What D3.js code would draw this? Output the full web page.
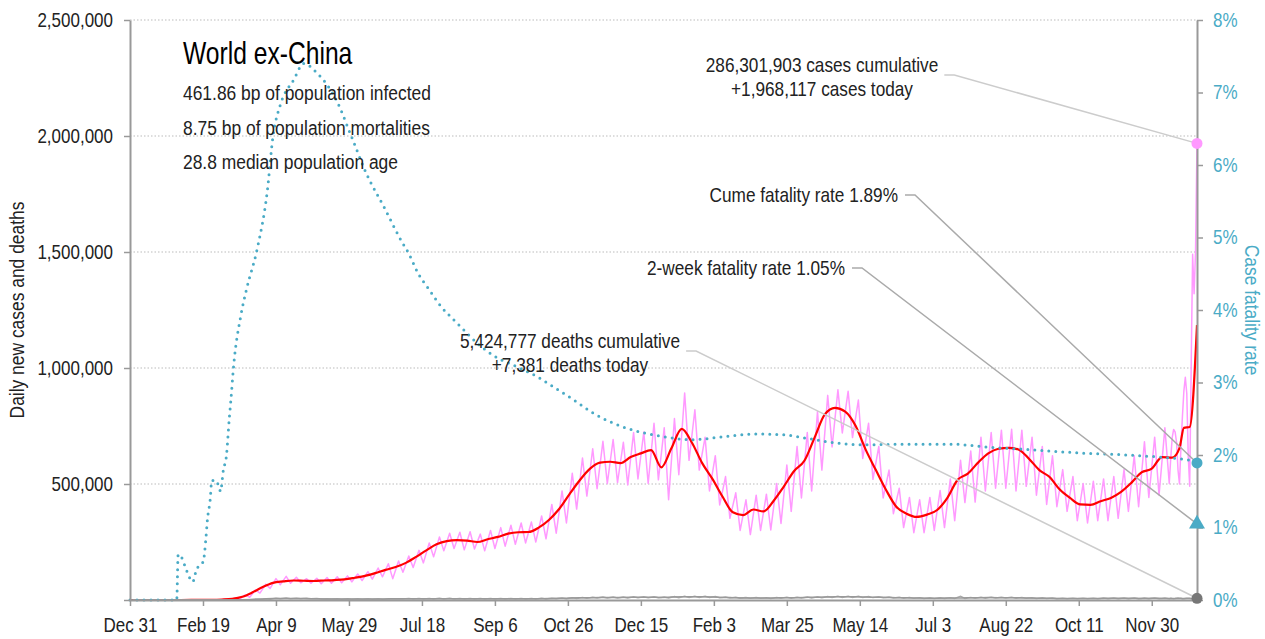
<!DOCTYPE html>
<html>
<head>
<meta charset="utf-8">
<script src="https://cdn.jsdelivr.net/npm/d3@7"></script>
<style>
body { margin: 0; background: #fff; }
svg text { font-family: "Liberation Sans", Arial, sans-serif; }
</style>
</head>
<body>
<svg id="chart" width="1265" height="639"></svg>
<script>
// Day 0 = Dec 31 2019, last day = 731 (Dec 31 2021)
const startDate = new Date(2019, 11, 31);
const lastDay = 731;
const tickDays = [0, 50, 100, 150, 200, 250, 300, 350, 400, 450, 500, 550, 600, 650, 700];

// 7-day average of new cases (thousands), sampled at day 7k
const avgCases = [0, 0, 0, 0, 0.05, 0.1, 0.2, 0.3, 0.6, 2,
  5, 14, 33, 56, 74, 80, 84, 83, 82, 84,
  86, 89, 96, 104, 116, 130, 142, 160, 186, 214,
  240, 254, 258, 256, 250, 262, 272, 286, 292, 293,
  312, 345, 392, 455, 515, 565, 592, 596, 590, 616,
  632, 646, 572, 655, 738, 678, 590, 522, 445, 378,
  366, 390, 382, 428, 490, 556, 600, 700, 800, 828,
  812, 752, 648, 560, 474, 402, 372, 358, 368, 388,
  440, 518, 545, 592, 632, 652, 656, 648, 608, 560,
  530, 476, 440, 412, 410, 426, 440, 466, 505, 550,
  566, 616, 614];
const finalAvgDays = [719, 722, 726, 731];
const finalAvgCases = [655, 742, 746, 1185];

// daily new cases (thousands): weekly peak (day 7k+2) and trough (day 7k+5)
const weekHigh = [0, 0, 0, 0, 0.1, 0.2, 0.3, 0.5, 1, 3,
  8, 22, 44, 68, 92, 102, 98, 92, 94, 97,
  100, 104, 112, 122, 138, 156, 168, 190, 214, 246,
  272, 288, 292, 294, 284, 300, 312, 322, 332, 336,
  362, 412, 470, 546, 612, 652, 684, 692, 680, 722,
  724, 762, 742, 782, 892, 820, 702, 622, 532, 462,
  432, 452, 456, 502, 582, 662, 722, 812, 882, 906,
  900, 862, 762, 662, 560, 482, 442, 432, 442, 472,
  522, 602, 642, 702, 722, 732, 736, 732, 702, 662,
  622, 562, 532, 502, 512, 522, 532, 562, 622, 682,
  702, 742];
const weekLow = [0, 0, 0, 0, 0, 0.1, 0.1, 0.2, 0.5, 1.5,
  4, 12, 30, 50, 66, 72, 74, 72, 70, 72,
  74, 78, 84, 90, 100, 92, 120, 140, 160, 186,
  212, 222, 216, 220, 212, 222, 232, 240, 246, 250,
  264, 288, 332, 392, 448, 480, 502, 506, 496, 522,
  502, 518, 432, 540, 602, 560, 470, 410, 352, 300,
  282, 300, 302, 330, 382, 440, 470, 560, 660, 720,
  700, 610, 520, 440, 372, 312, 290, 290, 300, 312,
  342, 420, 422, 470, 482, 482, 470, 490, 452, 412,
  402, 382, 342, 332, 342, 342, 352, 382, 402, 442,
  452, 502];
const finalCaseDays = [713, 714, 715, 716, 717, 718, 719, 720, 721, 722,
  723, 724, 725, 726, 727, 728, 729, 730, 731];
const finalCases = [610, 700, 735, 725, 680, 560, 500, 660, 790, 900,
  960, 890, 620, 490, 1000, 1490, 1320, 1500, 1968.117];

// deaths (thousands)
const avgDeaths = [0, 0, 0, 0, 0, 0, 0, 0, 0, 0.05,
  0.3, 1, 2.5, 4.5, 6.5, 7, 6.6, 6, 5.4, 4.8,
  4.4, 4.2, 4.3, 4.4, 4.6, 4.8, 5, 5.3, 5.6, 5.7,
  5.9, 5.9, 5.8, 5.7, 5.6, 5.4, 5.3, 5.3, 5.4, 5.6,
  5.9, 6.5, 7.3, 8.3, 9.3, 10.2, 10.8, 11, 11.3, 11.6,
  11.9, 11.8, 11.3, 12.4, 13.5, 14, 13.5, 12.5, 11.2, 10,
  9, 8.7, 8.6, 9, 9.6, 10.2, 11, 12, 13, 13.8,
  13.8, 13.5, 12.7, 12, 11, 10, 9.2, 8.5, 8, 8,
  8.2, 8.8, 9.5, 10, 10.3, 10.2, 9.8, 9.3, 8.6, 8,
  7.3, 6.8, 6.6, 6.6, 6.8, 7, 7.2, 7.3, 7.2, 7,
  7.1, 7, 6.9];
const deathsHigh = [0, 0, 0, 0, 0, 0, 0, 0, 0, 0.1,
  0.5, 1.4, 3.2, 5.6, 7.8, 8.2, 7.8, 7, 6.4, 5.7,
  5.2, 5, 5.1, 5.2, 5.4, 5.7, 5.9, 6.3, 6.6, 6.7,
  7, 7, 6.9, 6.8, 6.6, 6.4, 6.3, 6.3, 6.4, 6.6,
  7, 7.7, 8.6, 9.8, 11, 12, 12.7, 13, 13.3, 13.6,
  14, 13.8, 13.2, 14.6, 15.8, 16.4, 15.8, 14.6, 13.2, 11.8,
  10.6, 10.3, 10.1, 10.6, 11.3, 12, 13, 14.1, 15.3, 16.2,
  16.2, 15.9, 15, 14.1, 13, 11.8, 10.8, 10, 9.4, 9.4,
  9.6, 16, 11.2, 11.8, 12.1, 12, 11.5, 10.9, 10.1, 9.4,
  8.6, 8, 7.8, 7.8, 8, 8.2, 8.5, 8.6, 8.5, 8.2,
  8.4, 8.2];
const deathsLow = [0, 0, 0, 0, 0, 0, 0, 0, 0, 0,
  0.2, 0.7, 1.9, 3.6, 5.2, 5.6, 5.4, 4.9, 4.4, 3.9,
  3.6, 3.4, 3.5, 3.6, 3.7, 3.9, 4.1, 4.3, 4.5, 4.6,
  4.8, 4.8, 4.7, 4.6, 4.5, 4.4, 4.3, 4.3, 4.4, 4.5,
  4.8, 5.3, 5.9, 6.7, 7.5, 8.2, 8.7, 8.9, 9.1, 9.3,
  9.6, 9.5, 9, 10, 10.9, 11.3, 10.9, 10.1, 9.1, 8.1,
  7.3, 7.1, 7, 7.3, 7.8, 8.3, 8.9, 9.7, 10.5, 11.1,
  11.1, 10.9, 10.3, 9.7, 8.9, 8.1, 7.4, 6.9, 6.5, 6.5,
  6.7, 7.1, 7.7, 8.1, 8.3, 8.2, 7.9, 7.5, 6.9, 6.5,
  5.9, 5.5, 5.4, 5.4, 5.5, 5.7, 5.8, 5.9, 5.8, 5.7,
  5.8, 5.7];
const finalDeaths = [7.6, 6.2, 5.8, 6.3, 7.8, 8.4, 8.0, 7.2, 5.7, 5.4,
  6.6, 7.6, 8.0, 7.1, 5.2, 5.0, 6.9, 7.5, 7.381];

// case fatality rate (%)
const cfrDays = [0, 32, 33, 35, 38, 41, 43, 45, 48, 50, 52, 53, 55, 56, 59, 61, 62, 64, 66, 68,
  69, 71, 76, 80, 87, 94, 98, 103, 112, 119, 128, 142, 151, 162, 174, 186, 191, 197, 205, 213,
  220, 227, 238, 250, 267, 279, 290, 304, 318, 331, 345, 358, 370, 384, 406, 429, 447, 464, 482, 502,
  532, 562, 587, 620, 649, 683, 706, 725, 731];
const cfrPct = [0, 0, 0.63, 0.6, 0.45, 0.3, 0.25, 0.38, 0.5, 0.52, 0.85, 1.1, 1.4, 1.65, 1.65, 1.55, 1.5, 1.8, 1.98, 2.5,
  2.73, 3.23, 3.93, 4.3, 4.83, 5.63, 6.4, 6.83, 7.17, 7.4, 7.27, 6.87, 6.43, 5.88, 5.42, 4.95, 4.78, 4.52, 4.28, 4.05,
  3.9, 3.76, 3.54, 3.36, 3.2, 3.08, 2.94, 2.76, 2.57, 2.44, 2.34, 2.28, 2.24, 2.21, 2.25, 2.29, 2.28, 2.23, 2.17, 2.14,
  2.15, 2.15, 2.11, 2.07, 2.03, 2.0, 1.97, 1.93, 1.89];

const todayCases = 1968117;
const todayDeaths = 7381;
const cumeRate = 1.89;
const twoWeekRate = 1.05;

const leftTicks = [0, 500000, 1000000, 1500000, 2000000, 2500000];
const rightTicks = [0, 1, 2, 3, 4, 5, 6, 7, 8];

const titleText = "World ex-China";
const statLines = ["461.86 bp of population infected", "8.75 bp of population mortalities", "28.8 median population age"];
const casesNote = ["286,301,903 cases cumulative", "+1,968,117 cases today"];
const deathsNote = ["5,424,777 deaths cumulative", "+7,381 deaths today"];
const cumeNote = "Cume fatality rate 1.89%";
const twoWeekNote = "2-week fatality rate 1.05%";

const teal = "#4aabc6";
const pink = "#ff99ff";
const axisGray = "#999";
const narrowK = 0.82;

const svg = d3.select("#chart");
const margin = { top: 20, right: 68, bottom: 39, left: 130 };
const width = 1265 - margin.left - margin.right;
const height = 639 - margin.top - margin.bottom;
const g = svg.append("g").attr("transform", "translate(" + margin.left + "," + margin.top + ")");

// no condensed face installed, so squeeze Liberation Sans horizontally
function narrow(sel, k) {
  sel.each(function () {
    const t = d3.select(this);
    const tx = +t.attr("x") || 0, ty = +t.attr("y") || 0;
    const prev = t.attr("transform") || "";
    t.attr("x", null).attr("y", null)
      .attr("transform", prev + " translate(" + tx + "," + ty + ") scale(" + k + ",1)");
  });
}

const day = d => d3.timeDay.offset(startDate, d);
const x = d3.scaleTime().domain([startDate, day(lastDay)]).range([0, width]);
const yL = d3.scaleLinear().domain([0, 2500000]).range([height, 0]);
const yR = d3.scaleLinear().domain([0, 8]).range([height, 0]);

// build series
const avgSeries = avgCases.map((v, i) => ({ d: i * 7, v: v * 1000 }))
  .concat(finalAvgDays.map((d, i) => ({ d: d, v: finalAvgCases[i] * 1000 })));
const dailySeries = [];
weekHigh.forEach((v, i) => {
  dailySeries.push({ d: i * 7 + 2, v: v * 1000 });
  dailySeries.push({ d: i * 7 + 5, v: weekLow[i] * 1000 });
});
finalCaseDays.forEach((d, i) => dailySeries.push({ d: d, v: finalCases[i] * 1000 }));

const deathAvgSeries = avgDeaths.map((v, i) => ({ d: i * 7, v: v * 1000 }))
  .concat([{ d: lastDay, v: 6.8 * 1000 }]);
const deathDailySeries = [];
deathsHigh.forEach((v, i) => {
  deathDailySeries.push({ d: i * 7 + 2, v: v * 1000 });
  deathDailySeries.push({ d: i * 7 + 5, v: deathsLow[i] * 1000 });
});
finalCaseDays.forEach((d, i) => deathDailySeries.push({ d: d, v: finalDeaths[i] * 1000 }));

const cfrSeries = cfrDays.map((d, i) => ({ d: d, v: cfrPct[i] }));

// gridlines
g.append("g").selectAll("line").data(leftTicks.filter(t => t > 0)).enter().append("line")
  .attr("x1", 0).attr("x2", width)
  .attr("y1", d => yL(d)).attr("y2", d => yL(d))
  .attr("stroke", "#bbb").attr("stroke-width", 1).attr("stroke-dasharray", "1.5 2");

const lineL = d3.line().x(p => x(day(p.d))).y(p => yL(p.v));

g.append("path").datum(dailySeries).attr("d", lineL)
  .attr("fill", "none").attr("stroke", pink).attr("stroke-width", 1.5).attr("stroke-linejoin", "round");
g.append("path").datum(avgSeries).attr("d", lineL.curve(d3.curveMonotoneX))
  .attr("fill", "none").attr("stroke", "#ff0000").attr("stroke-width", 2.2);
lineL.curve(d3.curveLinear);
g.append("path").datum(deathDailySeries).attr("d", lineL)
  .attr("fill", "none").attr("stroke", "#aaa").attr("stroke-width", 1.5);
g.append("path").datum(deathAvgSeries).attr("d", lineL.curve(d3.curveMonotoneX))
  .attr("fill", "none").attr("stroke", "#999").attr("stroke-width", 1.5);

const lineR = d3.line().x(p => x(day(p.d))).y(p => yR(p.v)).curve(d3.curveMonotoneX);
g.append("path").datum(cfrSeries).attr("d", lineR)
  .attr("fill", "none").attr("stroke", teal).attr("stroke-width", 3)
  .attr("stroke-linecap", "round").attr("stroke-dasharray", "0 7");

// axes
const xAxis = g.append("g").attr("transform", "translate(0," + height + ")")
  .call(d3.axisBottom(x).tickValues(tickDays.map(day)).tickFormat(d3.timeFormat("%b %-d"))
    .tickSize(6).tickSizeOuter(0).tickPadding(12));
const yAxisL = g.append("g")
  .call(d3.axisLeft(yL).tickValues(leftTicks).tickFormat(d => d === 0 ? "" : d3.format(",")(d))
    .tickSize(6).tickSizeOuter(0).tickPadding(11));
const yAxisR = g.append("g").attr("transform", "translate(" + width + ",0)")
  .call(d3.axisRight(yR).tickValues(rightTicks).tickFormat(d => d + "%")
    .tickSize(6).tickSizeOuter(0).tickPadding(10));

[xAxis, yAxisL, yAxisR].forEach(a => {
  a.select(".domain").attr("stroke", axisGray).attr("stroke-width", 2);
  a.selectAll(".tick line").attr("stroke", axisGray).attr("stroke-width", 1.5);
  a.selectAll("text").attr("font-size", 20).attr("fill", "#222")
    .style("font-family", "'Liberation Sans', Arial, sans-serif");
  narrow(a.selectAll("text"), 0.85);
});
yAxisR.selectAll("text").attr("fill", teal);

const yTitle = svg.append("text").attr("transform", "translate(24," + (margin.top + height / 2) + ") rotate(-90)")
  .attr("text-anchor", "middle").attr("font-size", 21).attr("fill", "#222")
  .text("Daily new cases and deaths");
const rTitle = svg.append("text").attr("transform", "translate(1245," + (margin.top + height / 2) + ") rotate(90)")
  .attr("text-anchor", "middle").attr("font-size", 21).attr("fill", teal)
  .text("Case fatality rate");
narrow(yTitle, 0.83);
narrow(rTitle, 0.83);

// title block
const title = svg.append("text").attr("x", 183).attr("y", 64).attr("font-size", 32).attr("fill", "#000")
  .text(titleText);
narrow(title, 0.77);
const stats = svg.selectAll(".stat").data(statLines).enter().append("text").attr("class", "stat")
  .attr("x", 183).attr("y", (d, i) => 100 + i * 34.5)
  .attr("font-size", 21).attr("fill", "#222").text(d => d);
narrow(stats, 0.83);

// end markers and annotations
const endX = x(day(lastDay));
const mCases = [endX, yL(todayCases)];
const mCume = [endX, yR(cumeRate)];
const mTwo = [endX, yR(twoWeekRate)];
const mDeaths = [endX, yL(todayDeaths)];

const notes = g.append("g");
function leader(sx, sy, target, color) {
  notes.append("path")
    .attr("d", "M" + sx + "," + sy + "H" + (sx + 10) + "L" + target[0] + "," + target[1])
    .attr("fill", "none").attr("stroke", color).attr("stroke-width", 1.5);
}
function twoLineNote(lines, cx, by, target, color) {
  const t = lines.map((s, i) => svg.append("text").attr("x", cx).attr("y", by + i * 24)
    .attr("text-anchor", "middle").attr("font-size", 21).attr("fill", "#222").text(s));
  const w = t[0].node().getComputedTextLength() * narrowK;
  t.forEach(s => narrow(s, narrowK));
  leader(cx + w / 2 + 6 - margin.left, by + 3 - margin.top, target, color);
}
function oneLineNote(s, ex, by, target, color) {
  const t = svg.append("text").attr("x", ex).attr("y", by).attr("text-anchor", "end")
    .attr("font-size", 21).attr("fill", "#222").text(s);
  narrow(t, narrowK);
  leader(ex + 7 - margin.left, by - 7 - margin.top, target, color);
}
twoLineNote(casesNote, 822, 72, mCases, "#ccc");
oneLineNote(cumeNote, 898, 202, mCume, "#aaa");
oneLineNote(twoWeekNote, 845, 275, mTwo, "#aaa");
twoLineNote(deathsNote, 570, 348, mDeaths, "#ccc");

g.append("circle").attr("cx", mCases[0]).attr("cy", mCases[1]).attr("r", 5.5).attr("fill", pink);
g.append("circle").attr("cx", mCume[0]).attr("cy", mCume[1]).attr("r", 5.5).attr("fill", teal);
g.append("path").attr("d", d3.symbol(d3.symbolTriangle, 110)()).attr("fill", teal)
  .attr("transform", "translate(" + mTwo[0] + "," + mTwo[1] + ")");
g.append("circle").attr("cx", mDeaths[0]).attr("cy", mDeaths[1]).attr("r", 5.5).attr("fill", "#777");
</script>
</body>
</html>
